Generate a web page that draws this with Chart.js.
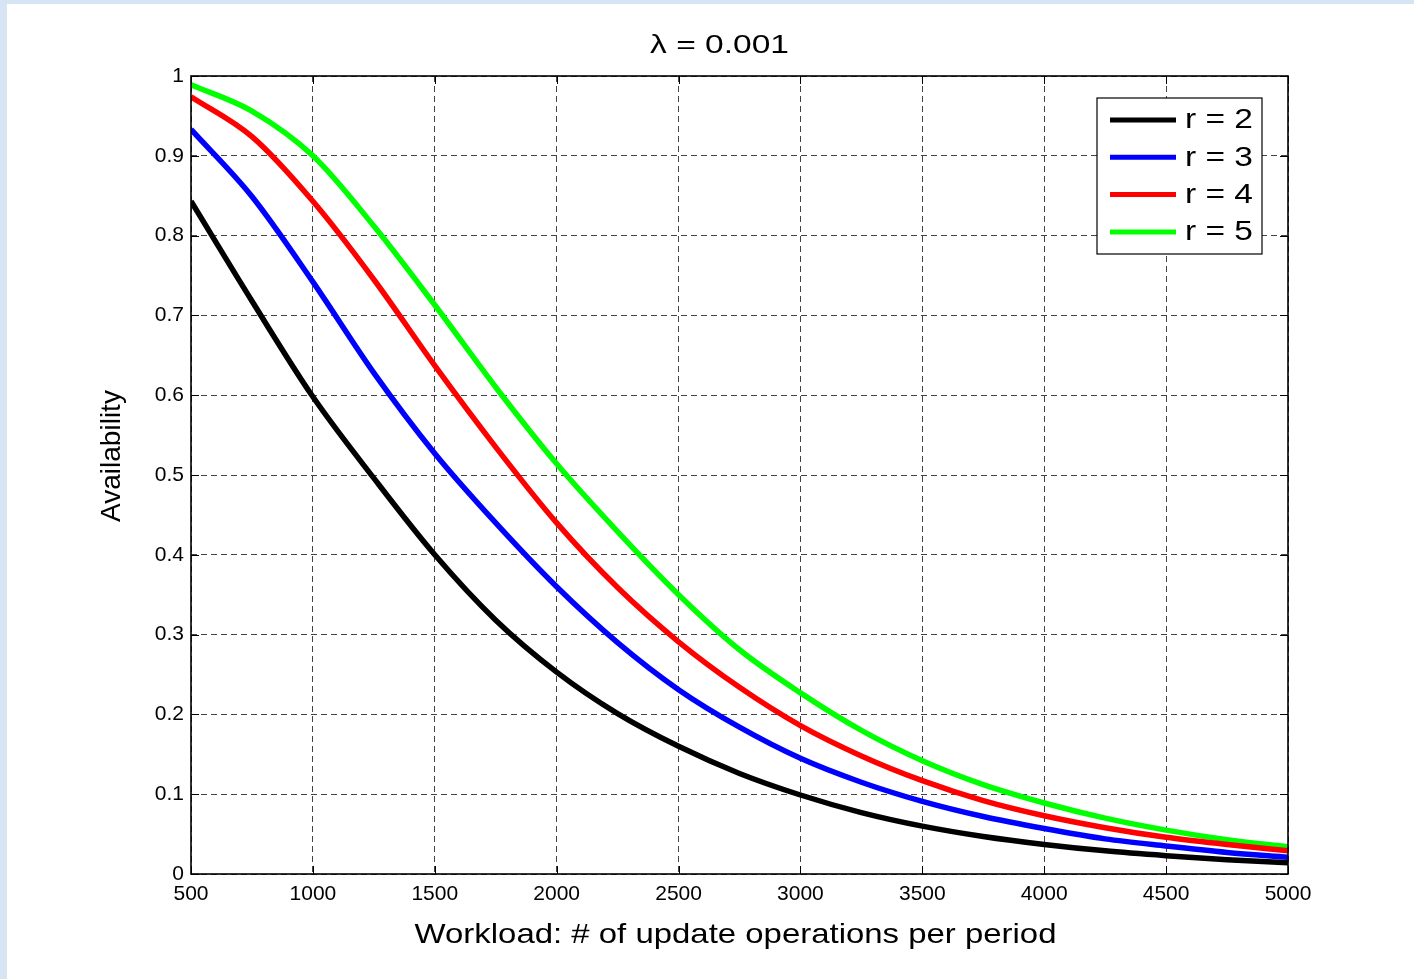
<!DOCTYPE html>
<html>
<head>
<meta charset="utf-8">
<script src="https://cdn.jsdelivr.net/npm/chart.js@4.4.1/dist/chart.umd.min.js"></script>
<style>
  html, body { margin: 0; padding: 0; }
  body { width: 1414px; height: 979px; background: #d6e4f4; position: relative; overflow: hidden; }
  #wrap { position: absolute; left: 7px; top: 4px; width: 1407px; height: 975px; background: #ffffff; }
  canvas { display: block; }
</style>
</head>
<body>
<div id="wrap"><canvas id="c" width="1407" height="975"></canvas></div>
<script>
// ---- data ----
const titleText = "\u03BB = 0.001";
const xAxisLabel = "Workload: # of update operations per period";
const yAxisLabel = "Availability";
const workload = [500, 750, 1000, 1250, 1500, 1750, 2000, 2250, 2500, 2750, 3000, 3250, 3500, 3750, 4000, 4250, 4500, 4750, 5000];
const seriesLabels = ["r = 2", "r = 3", "r = 4", "r = 5"];
const seriesColors = ["#000000", "#0000ff", "#ff0000", "#00ff00"];
const r2 = [0.843, 0.718, 0.598, 0.496, 0.400, 0.318, 0.253, 0.201, 0.160, 0.126, 0.099, 0.077, 0.060, 0.047, 0.037, 0.029, 0.023, 0.018, 0.014];
const r3 = [0.933, 0.849, 0.742, 0.628, 0.527, 0.440, 0.360, 0.290, 0.231, 0.184, 0.145, 0.115, 0.091, 0.072, 0.057, 0.044, 0.035, 0.027, 0.021];
const r4 = [0.974, 0.924, 0.843, 0.745, 0.637, 0.535, 0.440, 0.359, 0.291, 0.234, 0.186, 0.148, 0.117, 0.092, 0.073, 0.058, 0.046, 0.037, 0.029];
const r5 = [0.989, 0.956, 0.900, 0.812, 0.713, 0.610, 0.514, 0.429, 0.350, 0.281, 0.227, 0.180, 0.142, 0.112, 0.089, 0.070, 0.055, 0.043, 0.034];
const seriesValues = [r2, r3, r4, r5];
const xTicks = [500, 1000, 1500, 2000, 2500, 3000, 3500, 4000, 4500, 5000];
const yTicks = [0, 0.1, 0.2, 0.3, 0.4, 0.5, 0.6, 0.7, 0.8, 0.9, 1];

const FONT = "'Liberation Sans', Arial, Helvetica, sans-serif";

const datasets = seriesValues.map((vals, i) => ({
  label: seriesLabels[i],
  data: workload.map((x, j) => ({ x: x, y: vals[j] })),
  borderColor: seriesColors[i],
  backgroundColor: seriesColors[i],
  borderWidth: 5.5,
  pointRadius: 0,
  fill: false,
  cubicInterpolationMode: 'monotone'
}));

function stretchedText(ctx, text, x, y, sx, align) {
  ctx.save();
  ctx.translate(x, y);
  ctx.scale(sx, 1);
  ctx.textAlign = align;
  ctx.fillText(text, 0, 0);
  ctx.restore();
}

const decorPlugin = {
  id: 'decor',
  afterDatasetsDraw(chart) {
    const ctx = chart.ctx;
    const a = chart.chartArea;
    const xs = chart.scales.x, ys = chart.scales.y;
    ctx.save();
    // inner tick marks on all four sides
    ctx.strokeStyle = '#000';
    ctx.lineWidth = 1;
    ctx.beginPath();
    xTicks.forEach(v => {
      const px = Math.round(xs.getPixelForValue(v)) + 0.5;
      ctx.moveTo(px, a.bottom); ctx.lineTo(px, a.bottom - 8);
      ctx.moveTo(px, a.top); ctx.lineTo(px, a.top + 8);
    });
    yTicks.forEach(v => {
      const py = Math.round(ys.getPixelForValue(v)) + 0.5;
      ctx.moveTo(a.left, py); ctx.lineTo(a.left + 8, py);
      ctx.moveTo(a.right, py); ctx.lineTo(a.right - 8, py);
    });
    ctx.stroke();
    // axes box
    ctx.lineWidth = 1.6;
    ctx.strokeRect(a.left, a.top, a.right - a.left, a.bottom - a.top);

    // legend box
    const lx0 = a.right - 191, ly0 = a.top + 22, lw = 165, lh = 156;
    ctx.fillStyle = '#fff';
    ctx.fillRect(lx0, ly0, lw, lh);
    ctx.lineWidth = 1.2;
    ctx.strokeStyle = '#000';
    ctx.strokeRect(lx0, ly0, lw, lh);
    ctx.font = '27px ' + FONT;
    ctx.textBaseline = 'middle';
    chart.data.datasets.forEach((ds, i) => {
      const cy = ly0 + 22 + i * 37.3;
      ctx.strokeStyle = ds.borderColor;
      ctx.lineWidth = 5;
      ctx.beginPath();
      ctx.moveTo(lx0 + 13, cy); ctx.lineTo(lx0 + 79, cy);
      ctx.stroke();
      ctx.fillStyle = '#000';
      stretchedText(ctx, ds.label, lx0 + 88, cy + 1, 1.24, 'left');
    });

    // title and axis labels
    ctx.fillStyle = '#000';
    ctx.textBaseline = 'middle';
    ctx.font = '26px ' + FONT;
    stretchedText(ctx, titleText, (a.left + a.right) / 2 - 20, 42, 1.29, 'center');
    ctx.font = '28px ' + FONT;
    stretchedText(ctx, xAxisLabel, (a.left + a.right) / 2 - 4, 931, 1.176, 'center');
    ctx.save();
    ctx.translate(105, 452);
    ctx.rotate(-Math.PI / 2);
    ctx.textAlign = 'center';
    ctx.fillText(yAxisLabel, 0, 0);
    ctx.restore();
    ctx.restore();
  }
};

new Chart(document.getElementById('c'), {
  type: 'line',
  data: { datasets: datasets },
  options: {
    responsive: false,
    animation: false,
    layout: { padding: { left: 0, top: 72, right: 126, bottom: 0 } },
    plugins: { legend: { display: false }, tooltip: { enabled: false }, title: { display: false } },
    scales: {
      x: {
        type: 'linear',
        min: 500, max: 5000,
        afterFit: s => { s.height = 105; },
        afterBuildTicks: s => { s.ticks = xTicks.map(v => ({ value: v })); },
        ticks: { padding: 8, color: '#000', font: { family: FONT, size: 21 }, maxRotation: 0, autoSkip: false, callback: v => String(v) },
        grid: { color: '#444', lineWidth: 1, drawTicks: false },
        border: { display: false, dash: [6, 4] }
      },
      y: {
        type: 'linear',
        min: 0, max: 1,
        afterFit: s => { s.width = 184; },
        afterBuildTicks: s => { s.ticks = yTicks.map(v => ({ value: v })); },
        ticks: { padding: 7, color: '#000', font: { family: FONT, size: 21 }, autoSkip: false, callback: v => String(Math.round(v * 10) / 10) },
        grid: { color: '#444', lineWidth: 1, drawTicks: false },
        border: { display: false, dash: [6, 4] }
      }
    }
  },
  plugins: [decorPlugin]
});
</script>
</body>
</html>
